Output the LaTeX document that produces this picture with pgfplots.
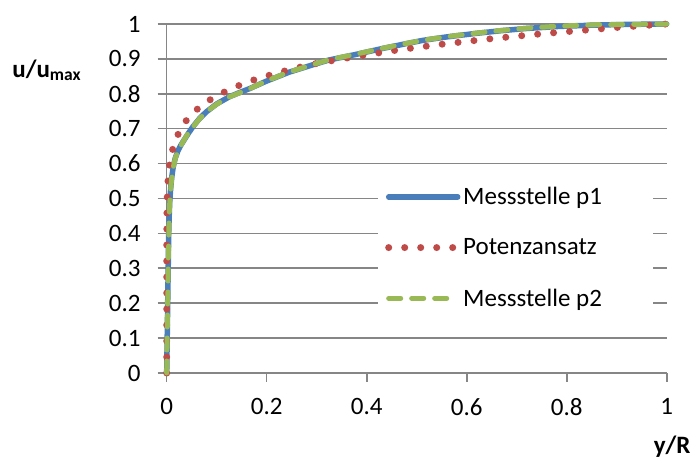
\documentclass[border=0pt]{standalone}
\usepackage{fontspec}
\setmainfont{Carlito}
\usepackage{pgfplots}
\pgfplotsset{compat=1.18}

\definecolor{gridgray}{HTML}{868686}
\definecolor{pblue}{HTML}{4A7EBB}
\definecolor{pred}{HTML}{BE4B48}
\definecolor{pgreen}{HTML}{98B954}

\begin{document}
\begin{tikzpicture}
\useasboundingbox (-166.7pt,-87pt) rectangle (532.3pt,373pt);
\begin{axis}[
  at={(0,0)}, anchor=south west,
  scale only axis, width=500pt, height=349pt,
  xmin=0, xmax=1, ymin=0, ymax=1,
  clip=false,
  axis x line*=bottom, axis y line*=left,
  axis line style={gridgray, line width=1.6pt},
  xtick={0,0.2,0.4,0.6,0.8,1},
  ytick={0,0.1,0.2,0.3,0.4,0.5,0.6,0.7,0.8,0.9,1},
  tick align=outside, major tick length=9pt,
  xtick style={draw=gridgray, line width=1.6pt},
  ytick style={draw=gridgray, line width=1.6pt},
  ymajorgrids, grid style={gridgray, line width=1.6pt},
  /pgf/number format/assume math mode=true,
  tick label style={font=\fontsize{25}{30}\selectfont},
  yticklabel style={inner sep=0pt, xshift=-17pt},
  xticklabel style={inner sep=0pt, yshift=-16pt},
  xlabel={\textbf{y/R}}, ylabel={\textbf{u/u\textsubscript{max}}},
  label style={font=\fontsize{25}{30}\selectfont},
  xlabel style={at={(axis description cs:1.048,-0.232)}, anchor=base east, inner sep=0pt},
  ylabel style={rotate=-90, at={(axis description cs:-0.309,0.848)}, anchor=base west, inner sep=0pt},
  legend style={draw=none, fill=none, at={(axis description cs:0.4366,0.538)}, anchor=north west,
    inner sep=0pt, row sep=28.5pt, font=\fontsize{25}{30}\selectfont,
    /tikz/every even column/.append style={column sep=14pt}},
  legend cell align=left,
  legend image code/.code={\draw[#1] (0pt,0pt) -- (69pt,0pt);},
]
% white box behind the legend hides the grid lines
\fill[white] (axis cs:0.423,0.152) rectangle (axis cs:0.973,0.587);

\addplot[draw=pblue, line width=5.5pt, line cap=round, line join=round] coordinates {
(0,0)(0.0005,0.05)(0.001,0.1)(0.0015,0.15)(0.002,0.2)(0.0025,0.25)(0.003,0.3)(0.0035,0.35)
(0.004,0.4)(0.005,0.45)(0.006,0.49)(0.008,0.53)(0.010,0.56)(0.013,0.59)(0.017,0.615)
(0.022,0.635)(0.028,0.652)(0.035,0.668)(0.043,0.686)(0.052,0.705)(0.065,0.728)(0.079,0.748)
(0.1,0.771)(0.126,0.792)(0.15,0.806)(0.166,0.815)(0.199,0.836)(0.245,0.862)(0.292,0.883)
(0.325,0.897)(0.379,0.913)(0.432,0.930)(0.48,0.944)(0.512,0.953)(0.56,0.963)(0.618,0.973)
(0.67,0.981)(0.718,0.987)(0.784,0.993)(0.858,0.997)(0.93,0.999)(1,1)
};
\addlegendentry{Messstelle p1}

\addplot[draw=pred, line width=7pt, line cap=round, dash pattern=on 0pt off 16pt] coordinates {
(0,0)(1e-10,0.1)(1e-9,0.126)(1e-8,0.158)(1e-7,0.2)(1e-6,0.251)(1e-5,0.316)(5e-5,0.372)
(1e-4,0.398)(3e-4,0.444)(0.001,0.501)(0.002,0.537)(0.003,0.559)(0.005,0.589)(0.0075,0.613)
(0.01,0.631)(0.015,0.657)(0.02,0.676)(0.03,0.704)(0.04,0.725)(0.05,0.741)(0.065,0.761)
(0.08,0.777)(0.1,0.794)(0.125,0.812)(0.15,0.827)(0.175,0.840)(0.2,0.851)(0.25,0.871)
(0.3,0.887)(0.35,0.900)(0.4,0.912)(0.45,0.923)(0.5,0.933)(0.55,0.942)(0.6,0.950)
(0.65,0.958)(0.7,0.965)(0.75,0.972)(0.8,0.978)(0.85,0.984)(0.9,0.990)(0.95,0.995)(1,1)
};
\addlegendentry{Potenzansatz}

\addplot[draw=pgreen, line width=5pt, line cap=round, line join=round, dash pattern=on 12pt off 11pt] coordinates {
(0,0)(0.0004,0.05)(0.0009,0.1)(0.0014,0.15)(0.002,0.2)(0.0026,0.25)(0.003,0.3)(0.0036,0.35)
(0.0042,0.4)(0.005,0.45)(0.0062,0.49)(0.0082,0.53)(0.0098,0.555)(0.013,0.588)(0.017,0.614)
(0.022,0.634)(0.028,0.651)(0.034,0.666)(0.043,0.687)(0.053,0.706)(0.066,0.729)(0.08,0.749)
(0.1,0.770)(0.125,0.791)(0.15,0.805)(0.168,0.816)(0.2,0.837)(0.246,0.863)(0.293,0.884)
(0.326,0.898)(0.38,0.914)(0.433,0.931)(0.482,0.945)(0.514,0.954)(0.562,0.964)(0.62,0.974)
(0.672,0.982)(0.72,0.988)(0.786,0.994)(0.86,0.998)(0.93,0.999)(1,1)
};
\addlegendentry{Messstelle p2}
\end{axis}
\end{tikzpicture}
\end{document}
